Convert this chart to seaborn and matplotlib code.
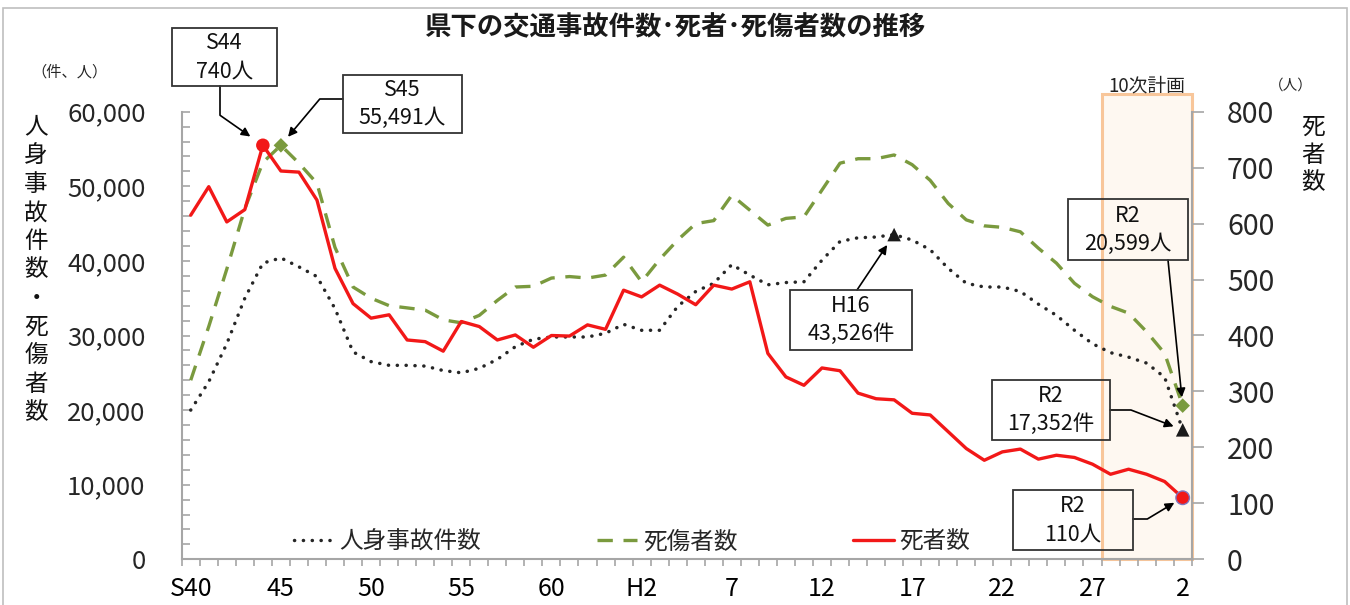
import matplotlib
matplotlib.use("Agg")
import matplotlib.pyplot as plt
import seaborn as sns
import numpy as np
import pandas as pd
from matplotlib.lines import Line2D
from matplotlib.patches import Rectangle

# ---------------- data ----------------
years = list(range(1965, 2021))          # S40 ... R2
tick_years = list(range(1965, 2021, 5))
tick_labels = ["S40", "45", "50", "55", "60", "H2", "7", "12", "17", "22", "27", "2"]

accidents = [20000, 23800, 28900, 35000, 39700, 40400, 39200, 37900, 33600, 27800,
             26500, 26000, 26000, 25900, 25300, 25000, 25600, 26800, 28500, 29500,
             29800, 29800, 29800, 30300, 31500, 30700, 30700, 33900, 35900, 37000,
             39500, 38100, 36800, 37100, 37200, 40100, 42600, 43100, 43200, 43526,
             42800, 41500, 39000, 37000, 36500, 36500, 35900, 34200, 32700, 30700,
             28900, 27700, 27100, 26300, 24400, 17352]
casualties = [24000, 31200, 38900, 47000, 53200, 55491, 53100, 50400, 41800, 36500,
              35000, 34000, 33700, 33400, 32100, 31700, 32700, 34700, 36500, 36600,
              37700, 37900, 37700, 38100, 40500, 37200, 40200, 42800, 45000, 45400,
              48800, 46800, 44800, 45700, 45900, 49500, 53100, 53700, 53700, 54200,
              52900, 50800, 47700, 45500, 44700, 44500, 43900, 41700, 39700, 37000,
              35200, 33900, 33000, 30500, 27600, 20599]
deaths = [615, 666, 603, 625, 740, 694, 692, 642, 520, 457,
          431, 437, 392, 389, 372, 425, 416, 392, 401, 379,
          400, 399, 419, 411, 481, 469, 490, 474, 455, 490,
          483, 496, 368, 326, 311, 342, 337, 297, 287, 285,
          261, 258, 228, 198, 177, 192, 197, 179, 186, 182,
          170, 152, 161, 152, 139, 110]

left_ticks = [0, 10000, 20000, 30000, 40000, 50000, 60000]
right_ticks = [0, 100, 200, 300, 400, 500, 600, 700, 800]

series_names = ["人身事故件数", "死傷者数", "死者数"]
title = "県下の交通事故件数･死者･死傷者数の推移"
left_label = "人身事故件数・死傷者数"
right_label = "死者数"
left_unit = "（件、人）"
right_unit = "（人）"
plan_label = "10次計画"
plan_start = 2016

# highlighted points (year)
peak_death_year, peak_cas_year, peak_acc_year, last_year = 1969, 1970, 2004, 2020

# ---------------- style ----------------
sns.set_theme(style="white")
CJK = ["Noto Sans CJK JP", "DejaVu Sans"]
plt.rcParams["font.family"] = CJK

W, H = 1350, 605
fig = plt.figure(figsize=(W / 100, H / 100), dpi=100)
fig.patch.set_facecolor("white")

L, R, T, B = 181.7, 1191.7, 111.7, 559.3
ax = fig.add_axes([L / W, 1 - B / H, (R - L) / W, (B - T) / H])
ax2 = ax.twinx()

df = pd.DataFrame({"idx": np.arange(len(years)), "year": years,
                   "accidents": accidents, "casualties": casualties, "deaths": deaths})
yidx = {y: i for i, y in enumerate(years)}

RED = "#F21818"
GREEN = "#7A9A3E"
BLACK = "#262626"
GRAY = "#A6A6A6"

# plan highlight box (behind lines)
p0 = yidx[plan_start] - 0.5
p1 = len(years) - 0.5
rect_top = 62370
ax.add_patch(Rectangle((p0, 0), p1 - p0, rect_top, facecolor="#FEF8F1",
                       edgecolor="#F8C69A", lw=2.2, zorder=0, clip_on=False))
ax.text((p0 + p1) / 2, rect_top - 300, plan_label, ha="center", va="bottom",
        fontsize=13.5, color="#222222", family=CJK)

sns.lineplot(data=df, x="idx", y="accidents", ax=ax, color=BLACK, lw=2.5,
             linestyle=(0, (0.05, 2.5)), dash_capstyle="round", zorder=3)
sns.lineplot(data=df, x="idx", y="casualties", ax=ax, color=GREEN, lw=2.4,
             linestyle=(0, (4.6, 3.2)), zorder=3)
sns.lineplot(data=df, x="idx", y="deaths", ax=ax2, color=RED, lw=2.4, zorder=3)

# markers
sns.scatterplot(x=[yidx[peak_death_year], yidx[last_year]],
                y=[deaths[yidx[peak_death_year]], deaths[yidx[last_year]]],
                ax=ax2, color=RED, marker="o", s=95, edgecolor=["none", "#7F75C0"],
                linewidth=1, zorder=5)
sns.scatterplot(x=[yidx[peak_cas_year], yidx[last_year]],
                y=[casualties[yidx[peak_cas_year]], casualties[yidx[last_year]]],
                ax=ax, color=GREEN, marker="D", s=55, edgecolor="none", zorder=5)
sns.scatterplot(x=[yidx[peak_acc_year], yidx[last_year]],
                y=[accidents[yidx[peak_acc_year]], accidents[yidx[last_year]]],
                ax=ax, color="#1A1A1A", marker="^", s=95, edgecolor="none", zorder=5)

# axes
ax.set_xlim(-0.5, len(years) - 0.5)
ax.set_ylim(0, 60000)
ax2.set_ylim(0, 800)
ax.set_xticks([yidx[y] for y in tick_years])
ax.set_xticklabels(tick_labels, fontsize=18)
ax.set_xticks(np.arange(-0.5, len(years), 1), minor=True)
ax.tick_params(axis="x", which="major", length=0, pad=12, labelcolor="black")
ax.tick_params(axis="x", which="minor", length=5, width=1.2, color=GRAY, direction="out", bottom=True)
ax.set_yticks(left_ticks)
ax.set_yticklabels([f"{v:,}" for v in left_ticks], fontsize=18.5)
ax.set_yticks(np.arange(0, 60001, 2000), minor=True)
ax.tick_params(axis="y", which="both", direction="in", length=5.5, width=1.2,
               color=GRAY, pad=26, left=True)
ax2.set_yticks(right_ticks)
ax2.set_yticklabels([str(v) for v in right_ticks], fontsize=20.5)
ax2.tick_params(axis="y", which="major", direction="out", length=8.5, width=1.2,
                color=GRAY, pad=17, right=True)
ax.set_xlabel("")
ax.set_ylabel("")
ax2.set_ylabel("")
ax.grid(False)
ax2.grid(False)
for a in (ax, ax2):
    a.spines["top"].set_visible(False)
    for s in a.spines.values():
        s.set_color(GRAY)
        s.set_linewidth(1.5)
ax.spines["right"].set_visible(False)
ax2.spines["left"].set_visible(False)
ax2.spines["bottom"].set_visible(False)

# legend
handles = [Line2D([], [], color=BLACK, lw=2.5, linestyle=(0, (0.05, 2.5)), dash_capstyle="round"),
           Line2D([], [], color=GREEN, lw=2.4, linestyle=(0, (4.6, 3.2))),
           Line2D([], [], color=RED, lw=2.4)]
fig.legend(handles, series_names, loc="center", bbox_to_anchor=(632 / W, 1 - 542 / H),
           ncol=3, frameon=False, handlelength=1.7, handletextpad=0.25,
           columnspacing=4.9, prop={"family": CJK, "size": 17})

# titles / labels
def fx(x):
    return x / W

def fy(y):
    return 1 - y / H

fig.text(fx(675), fy(28), title, ha="center", va="center", fontsize=19,
         fontweight="bold", family=CJK, color="#1A1A1A")
fig.text(fx(70), fy(72), left_unit, ha="center", va="center", fontsize=11, family=CJK)
fig.text(fx(1291), fy(86), right_unit, ha="center", va="center", fontsize=10.5, family=CJK)
for k, ch in enumerate(left_label):
    fig.text(fx(36), fy(127 + 28.6 * k), ch, ha="center", va="center",
             fontsize=17, family=CJK, color="#111111")
for k, ch in enumerate(right_label):
    fig.text(fx(1313), fy(127 + 28 * k), ch, ha="center", va="center",
             fontsize=17, family=CJK, color="#111111")

# callouts: box (x0, y0, w, h in image px), arrow start (px), target, connection
def callout(text, box, start, target, tax, conn, shrinkB):
    x0, y0, w, h = box
    fig.patches.append(Rectangle((fx(x0), fy(y0 + h)), w / W, h / H, transform=fig.transFigure,
                                 fc="none", ec="#333333", lw=1.3, zorder=4))
    fig.text(fx(x0 + w / 2), fy(y0 + h / 2), text, ha="center", va="center",
             fontsize=15.5, linespacing=1.35, family=CJK, color="#111111", zorder=5)
    tax.annotate("", xy=target, xycoords="data", xytext=(fx(start[0]), fy(start[1])),
                 textcoords="figure fraction",
                 arrowprops=dict(arrowstyle="-|>", color="black", lw=1.2, mutation_scale=13,
                                 shrinkA=0, shrinkB=shrinkB, connectionstyle=conn),
                 annotation_clip=False, zorder=6)

i = yidx[peak_death_year]
callout(f"S44\n{deaths[i]}人", (172, 28, 105, 58), (220, 86),
        (i, deaths[i]), ax2, "angle,angleA=90,angleB=-35,rad=0", 11)
i = yidx[peak_cas_year]
callout(f"S45\n{casualties[i]:,}人", (343, 75, 119, 58), (343, 99),
        (i, casualties[i]), ax, "angle,angleA=0,angleB=50,rad=0", 8)
i = yidx[peak_acc_year]
callout(f"H16\n{accidents[i]:,}件", (790, 290, 122, 60), (857, 290),
        (i, accidents[i]), ax, "arc3,rad=0", 9)
i = yidx[last_year]
callout(f"R2\n{casualties[i]:,}人", (1068, 199, 120, 61), (1168, 260),
        (i, casualties[i]), ax, "arc3,rad=0", 6)
callout(f"R2\n{accidents[i]:,}件", (992, 380, 118, 60), (1110, 410),
        (i, accidents[i]), ax, "angle,angleA=0,angleB=-21,rad=0", 7)
callout(f"R2\n{deaths[i]}人", (1013, 490, 120, 60), (1133, 519),
        (i, deaths[i]), ax2, "angle,angleA=0,angleB=31,rad=0", 7)

# outer frame
fig.patches.append(Rectangle((fx(3), -0.02), (W - 6) / W, fy(8) + 0.02, transform=fig.transFigure,
                             fc="none", ec="#BFBFBF", lw=1.2, zorder=0))

fig.savefig("out.png", dpi=100)
